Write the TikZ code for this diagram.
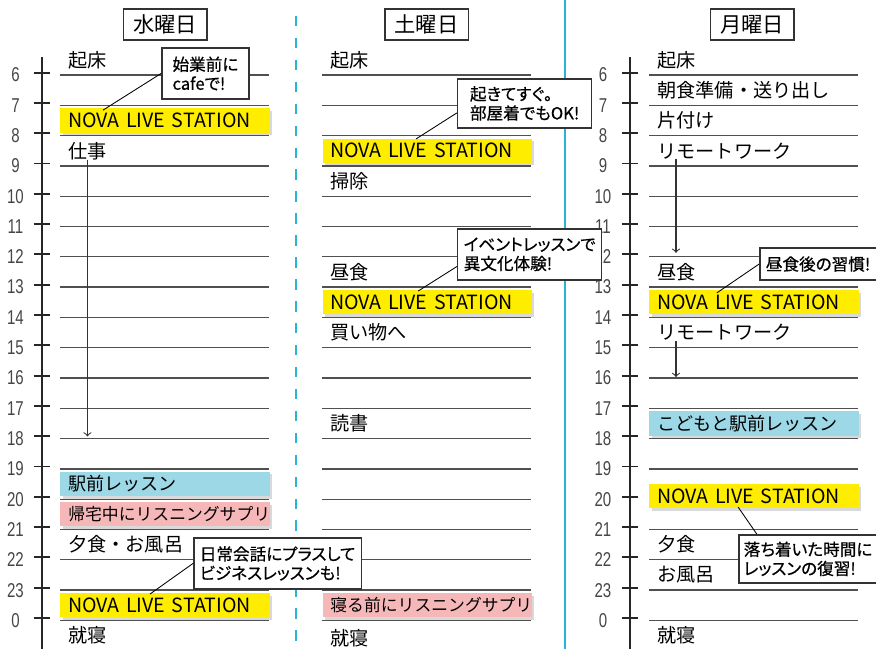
\documentclass[tikz,border=0pt]{standalone}
\usepackage{fontspec}
\setmainfont{Noto Sans CJK JP}
\newfontfamily\hourfont[FakeStretch=0.75]{Liberation Sans}
\newfontfamily\memofont[RawFeature=+palt, FakeBold=0.6]{Noto Sans CJK JP}
\usepackage{xcolor}
\usetikzlibrary{shadows}

\definecolor{novayellow}{RGB}{255,237,0}
\definecolor{lessonblue}{RGB}{157,216,231}
\definecolor{suppink}{RGB}{246,183,185}
\definecolor{divcyan}{RGB}{40,180,212}
\definecolor{rulegray}{RGB}{80,80,80}
\definecolor{hourgray}{RGB}{70,70,70}

\begin{document}
\begin{tikzpicture}[
    x=0.5cm, y=0.5cm,
    >=to,
    dayhead/.style={draw=black!80, line width=0.7pt, minimum width=1.38cm, minimum height=0.51cm, inner sep=0pt, font=\fontsize{10}{12}\selectfont},
    entry/.style={anchor=west, inner sep=0pt, font=\fontsize{9}{11}\selectfont},
    slot/.style={anchor=west, text width=3.19cm, inner xsep=0.13cm, inner ysep=0pt, minimum height=0.4cm, align=left, font=\fontsize{9.2}{11}\selectfont, drop shadow={opacity=0.3, shadow xshift=1.2pt, shadow yshift=-1.2pt}},
    nova/.style={slot, fill=novayellow},
    lesson/.style={slot, fill=lessonblue, font=\fontsize{8.5}{10}\selectfont},
    supli/.style={slot, fill=suppink, font=\fontsize{7.9}{9.5}\selectfont},
    hline/.style={draw=rulegray, line width=0.6pt},
    timeaxis/.style={draw=black!85, line width=0.9pt},
    hour/.style={text=hourgray, inner sep=0pt, font=\hourfont\fontsize{9.4}{11}\selectfont},
    memo/.style={draw=black!80, line width=0.7pt, fill=white, align=left, inner xsep=0.1cm, inner ysep=0.05cm, font=\memofont\fontsize{7.8}{9}\selectfont},
    pointer/.style={draw=black, line width=0.4pt},
    arrow/.style={->, draw=black!80, line width=0.5pt}
]

\clip (0,2.475) rectangle (28.91,-18.94);

% === Dividers ===
\draw[divcyan, line width=0.9pt, dash pattern=on 4.9pt off 5.4pt] (9.77,1.95) -- (9.77,-18.94);
\draw[divcyan, line width=0.9pt] (18.65,2.475) -- (18.65,-18.94);

% === Day headers ===
\node[dayhead] (wed) at (5.45,1.67) {水曜日};
\node[dayhead] (sat) at (14.08,1.67) {土曜日};
\node[dayhead] (mon) at (24.82,1.67) {月曜日};

% Time axes
\draw[timeaxis] (1.38,0.59) -- (1.38,-18.94);
\draw[timeaxis] (20.79,0.59) -- (20.79,-18.94);

% Hour ticks and ruled lines
\foreach \k in {0,...,18} {
    \pgfmathtruncatemacro{\h}{mod(\k+6,24)}
    \draw[timeaxis] (1.11,-\k+0.08) -- (1.65,-\k+0.08);
    \draw[timeaxis] (20.52,-\k+0.08) -- (21.06,-\k+0.08);
    \node[hour] (wh\k) at (0.51,-\k) {\h};
    \node[hour] (mh\k) at (19.90,-\k) {\h};
    \draw[hline] (1.98,-\k) -- (8.88,-\k);
    \draw[hline] (10.63,-\k) -- (17.52,-\k);
    \draw[hline] (21.42,-\k) -- (28.32,-\k);
}

% === Wednesday ===
\node[entry] (w-wake) at (2.24,0.5) {起床};
\node[nova] (w-nova1) at (1.98,-1.5) {NOVA LIVE STATION};
\node[entry] (w-work) at (2.24,-2.5) {仕事};
\coordinate (w-work-end) at (2.90,-11.93);
\draw[arrow] (w-work.south) -- (w-work.south |- w-work-end);
\node[lesson] (w-lesson) at (1.98,-13.5) {駅前レッスン};
\node[supli] (w-supli) at (1.98,-14.5) {帰宅中にリスニングサプリ};
\node[entry] (w-dinner) at (2.24,-15.5) {夕食・お風呂};
\node[nova] (w-nova2) at (1.98,-17.5) {NOVA LIVE STATION};
\node[entry] (w-sleep) at (2.24,-18.5) {就寝};

% === Saturday ===
\node[entry] (s-wake) at (10.89,0.5) {起床};
\node[nova] (s-nova1) at (10.63,-2.5) {NOVA LIVE STATION};
\node[entry] (s-clean) at (10.89,-3.5) {掃除};
\node[entry] (s-lunch) at (10.89,-6.5) {昼食};
\node[nova] (s-nova2) at (10.63,-7.5) {NOVA LIVE STATION};
\node[entry] (s-shop) at (10.89,-8.5) {買い物へ};
\node[entry] (s-read) at (10.89,-11.5) {読書};
\node[supli] (s-supli) at (10.63,-17.5) {寝る前にリスニングサプリ};
\node[entry] (s-sleep) at (10.89,-18.6) {就寝};

% === Monday ===
\node[entry] (m-wake) at (21.68,0.5) {起床};
\node[entry] (m-breakfast) at (21.68,-0.5) {朝食準備・送り出し};
\node[entry] (m-tidy) at (21.68,-1.5) {片付け};
\node[entry] (m-remote1) at (21.68,-2.5) {リモートワーク};
\coordinate (m-remote1-end) at (22.31,-5.87);
\draw[arrow] (m-remote1-end |- m-remote1.south) -- (m-remote1-end);
\node[entry] (m-lunch) at (21.68,-6.5) {昼食};
\node[nova] (m-nova1) at (21.42,-7.5) {NOVA LIVE STATION};
\node[entry] (m-remote2) at (21.68,-8.5) {リモートワーク};
\coordinate (m-remote2-end) at (22.31,-9.97);
\draw[arrow] (m-remote2-end |- m-remote2.south) -- (m-remote2-end);
\node[lesson] (m-lesson) at (21.42,-11.5) {こどもと駅前レッスン};
\node[nova] (m-nova2) at (21.42,-13.9) {NOVA LIVE STATION};
\node[entry] (m-dinner) at (21.68,-15.5) {夕食};
\node[entry] (m-bath) at (21.68,-16.5) {お風呂};
\node[entry] (m-sleep) at (21.68,-18.5) {就寝};

% === Memos ===
\node[memo, minimum width=1.44cm, minimum height=0.84cm] (c1) at (6.78,0.05) {始業前に\\cafeで!};
\coordinate (c1-tip) at (3.40,-1.16);
\draw[pointer] (c1.west) -- (c1-tip);

\node[memo, anchor=west, minimum width=2.21cm, minimum height=0.81cm] (c2) at (15.08,-0.94) {起きてすぐ。\\部屋着でもOK!};
\coordinate (c2-tip) at (13.73,-2.11);
\draw[pointer] ([yshift=-0.155cm]c2.west) -- (c2-tip);

\node[memo, anchor=west, minimum width=2.10cm, minimum height=0.84cm] (c3) at (15.08,-5.92) {イベントレッスンで\\異文化体験!};
\coordinate (c3-tip) at (13.80,-7.13);
\draw[pointer] ([yshift=-0.2cm]c3.west) -- (c3-tip);

\node[memo, anchor=west, text width=2.4cm, minimum height=0.53cm] (c4) at (25.05,-6.24) {昼食後の習慣!};
\coordinate (c4-tip) at (23.66,-7.19);
\draw[pointer] (c4.west) -- (c4-tip);

\node[memo, anchor=west, minimum width=2.76cm, minimum height=0.84cm] (c5) at (6.37,-16.12) {日常会話にプラスして\\ビジネスレッスンも!};
\coordinate (c5-tip) at (4.95,-17.13);
\draw[pointer] (c5.west) -- (c5-tip);

\node[memo, anchor=west, inner xsep=0.08cm, text width=2.6cm, minimum height=0.79cm] (c6) at (24.36,-15.97) {落ち着いた時間に\\レッスンの復習!};
\coordinate (c6-tip) at (24.36,-14.26);
\draw[pointer] ([xshift=0.31cm]c6.north west) -- (c6-tip);

\end{tikzpicture}
\end{document}
